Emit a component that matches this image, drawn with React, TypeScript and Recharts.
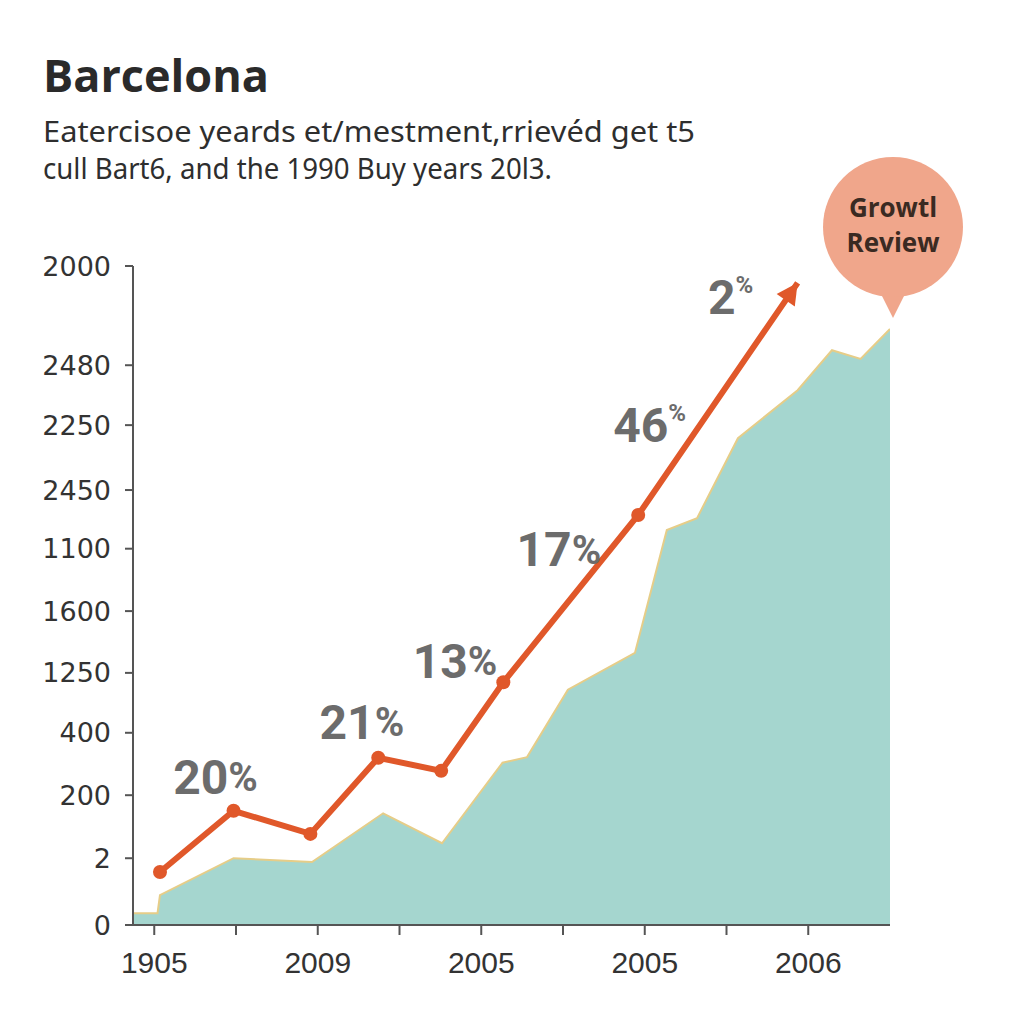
import React from 'react';
import { ComposedChart, Area, Line, Scatter, XAxis, YAxis } from 'recharts';

// ---- Data ----
const xTickPos = [0, 1, 2, 3, 4, 5, 6, 7, 8];
const xTickLabels = ['1905', '', '2009', '', '2005', '', '2005', '', '2006'];

const yTickPos = [0, 1.07, 2.08, 3.08, 4.04, 5.03, 6.03, 6.97, 8.01, 8.97, 10.56];
const yTickLabels = ['0', '2', '200', '400', '1250', '1600', '1100', '2450', '2250', '2480', '2000'];

const areaX = [-0.26, 0.04, 0.07, 0.97, 1.93, 2.8, 3.52, 4.26, 4.56, 5.06, 5.88, 6.27, 6.64, 7.14, 7.87, 8.29, 8.64, 9.0];
const areaY = [0.19, 0.19, 0.48, 1.07, 1.01, 1.79, 1.31, 2.6, 2.69, 3.77, 4.36, 6.33, 6.52, 7.8, 8.57, 9.21, 9.07, 9.55];

const lineX = [0.07, 0.97, 1.91, 2.74, 3.51, 4.27, 5.92, 7.87];
const lineY = [0.85, 1.83, 1.46, 2.68, 2.47, 3.89, 6.57, 10.29];

const labelText = ['20', '21', '13', '17', '46', '2'];
const labelSmallPct = [false, false, false, false, true, true];
const labelX = [0.75, 2.54, 3.68, 4.95, 6.06, 7.05];
const labelY = [2.37, 3.25, 4.23, 6.01, 8.01, 10.06];

const titleText = 'Barcelona';
const subtitleLines = [
  'Eatercisoe yeards et/mestment,rrievéd get t5',
  'cull Bart6, and the 1990 Buy years 20l3.',
];
const bubbleLines = ['Growtl', 'Review'];

// ---- Derived tables ----
const areaData = areaX.map((x, i) => ({ x, v: areaY[i] }));
const lineData = lineX.map((x, i) => ({ x, v: lineY[i] }));
const labelData = labelX.map((x, i) => ({ x, v: labelY[i], t: labelText[i], small: labelSmallPct[i] }));

const LINE_COLOR = '#e0582a';

const renderDot = (props: any) => {
  const { cx, cy, index } = props;
  if (index === lineData.length - 1) return <g key={`d${index}`} />;
  return <circle key={`d${index}`} cx={cx} cy={cy} r={7} fill={LINE_COLOR} />;
};

const renderLabel = (props: any) => {
  const { cx, cy, payload } = props;
  return (
    <text
      x={cx}
      y={cy}
      textAnchor="middle"
      dominantBaseline="central"
      fill="#6c6c6c"
      fontFamily="Roboto, 'Liberation Sans', sans-serif"
      fontWeight={700}
      fontSize={48}
    >
      {payload.t}
      {payload.small ? (
        <tspan fontSize={24} dy={-12}>%</tspan>
      ) : (
        <tspan fontSize={40}>%</tspan>
      )}
    </text>
  );
};

export default function App() {
  return (
    <div style={{ position: 'relative', width: 1008, height: 1008, background: '#ffffff' }}>
      <svg width={0} height={0} style={{ position: 'absolute' }}>
        <defs>
          <marker
            id="arrowHead"
            markerUnits="userSpaceOnUse"
            markerWidth={30}
            markerHeight={30}
            refX={22}
            refY={12}
            orient="auto"
          >
            <path d="M1,1 L22,12 L1,23 Z" fill={LINE_COLOR} />
          </marker>
        </defs>
      </svg>
      <ComposedChart
        width={1008}
        height={1008}
        margin={{ top: 258, right: 126, left: 25, bottom: 31 }}
      >
        <XAxis
          dataKey="x"
          type="number"
          domain={[-0.26, 9]}
          ticks={xTickPos}
          interval={0}
          allowDataOverflow
          tickFormatter={(v: number) => xTickLabels[xTickPos.indexOf(v)] ?? ''}
          stroke="#555"
          strokeWidth={2}
          tickSize={10}
          tickMargin={17}
          height={60}
          tick={{ fill: '#333', fontSize: 30, fontFamily: "'Liberation Sans', Arial, sans-serif" }}
        />
        <YAxis
          type="number"
          domain={[0, 10.56]}
          ticks={yTickPos}
          interval={0}
          allowDataOverflow
          tickFormatter={(v: number) => yTickLabels[yTickPos.indexOf(v)] ?? ''}
          stroke="#555"
          strokeWidth={2}
          tickSize={8}
          tickMargin={14}
          width={100}
          tick={{ fill: '#333', fontSize: 27, fontFamily: "'DejaVu Sans', sans-serif" }}
        />
        <Area
          data={areaData}
          dataKey="v"
          type="linear"
          fill="#a5d6cf"
          fillOpacity={1}
          stroke="#e6cd88"
          strokeWidth={2}
          isAnimationActive={false}
        />
        <Line
          data={lineData}
          dataKey="v"
          type="linear"
          stroke={LINE_COLOR}
          strokeWidth={6}
          dot={renderDot}
          activeDot={false}
          markerEnd="url(#arrowHead)"
          isAnimationActive={false}
        />
        <Scatter data={labelData} dataKey="v" shape={renderLabel} isAnimationActive={false} />
      </ComposedChart>
      <svg
        width={1008}
        height={1008}
        style={{ position: 'absolute', left: 0, top: 0, pointerEvents: 'none' }}
      >
        <text
          x={35}
          y={84}
          fill="#2a2a2a"
          fontFamily="'Open Sans', sans-serif"
          fontWeight={700}
          fontSize={45}
        >
          {titleText}
        </text>
        {subtitleLines.map((s, i) => (
          <text
            key={i}
            x={35}
            y={134 + i * 37}
            fill="#2e2e2e"
            fontFamily="'Noto Sans', sans-serif"
            fontSize={29}
            textLength={i === 0 ? 652 : 509}
            lengthAdjust="spacingAndGlyphs"
          >
            {s}
          </text>
        ))}
        <path d="M870,280 L885,310 L900,280 Z" fill="#f0a68b" />
        <circle cx={885} cy={219} r={70} fill="#f0a68b" />
        {bubbleLines.map((s, i) => (
          <text
            key={i}
            x={885}
            y={209 + i * 35}
            textAnchor="middle"
            fill="#3a2a22"
            fontFamily="'Open Sans', sans-serif"
            fontWeight={700}
            fontSize={26}
          >
            {s}
          </text>
        ))}
      </svg>
    </div>
  );
}
